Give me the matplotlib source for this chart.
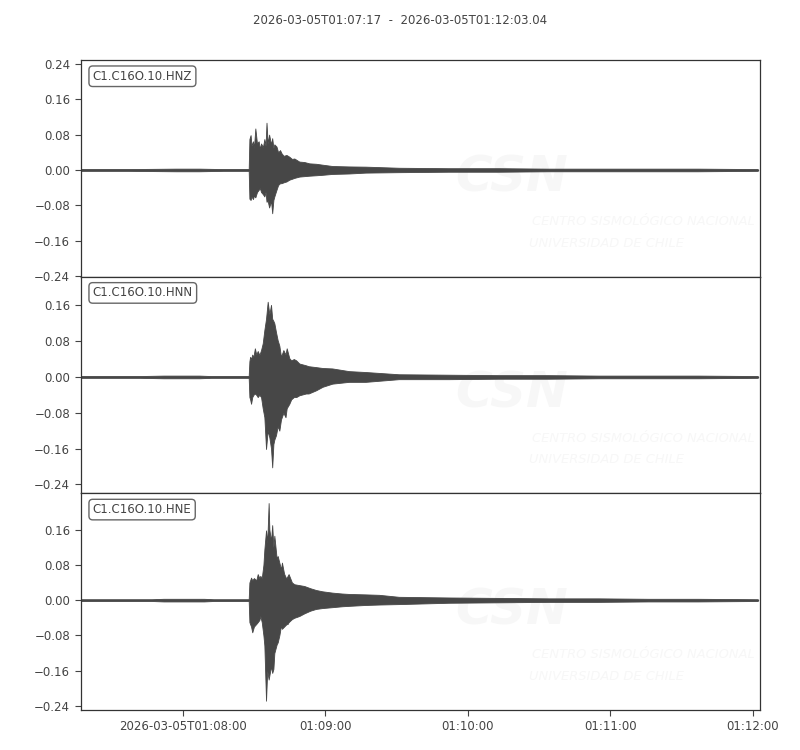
import datetime as dt
import numpy as np
import matplotlib
matplotlib.use("Agg")
import matplotlib.pyplot as plt
import matplotlib.dates as mdates
from matplotlib.ticker import FixedLocator, FuncFormatter

# ---------------- data ----------------
start_time = dt.datetime(2026, 3, 5, 1, 7, 17)
end_time = dt.datetime(2026, 3, 5, 1, 12, 3, 40000)
title_text = "2026-03-05T01:07:17  -  2026-03-05T01:12:03.04"
channels = ["C1.C16O.10.HNZ", "C1.C16O.10.HNN", "C1.C16O.10.HNE"]

# seconds after start; upper / lower envelope of the trace
t_z = [0, 20, 40, 50, 60, 70.8, 71.1, 71.6, 72.0, 72.6, 73.0, 73.6, 74.3, 75.0, 75.5,
       76.0, 76.8, 77.4, 77.9, 78.3, 78.8, 79.4, 80.2, 80.7, 81.2, 81.6, 82.5, 83.2, 84.0, 84.6,
       85.5, 86.7, 87.9, 89.0, 90.0, 92.1, 94.2, 96.3, 99.2, 101.8, 106, 113, 120, 134, 155,
       176, 197, 218, 239, 260, 285.1]
up_z = [0.002, 0.002, 0.003, 0.003, 0.002, 0.002, 0.07, 0.079, 0.055, 0.065, 0.05, 0.094, 0.06, 0.065, 0.048,
        0.06, 0.052, 0.07, 0.055, 0.107, 0.06, 0.08, 0.058, 0.072, 0.05, 0.058, 0.053, 0.04, 0.045, 0.038,
        0.032, 0.034, 0.030, 0.025, 0.026, 0.019, 0.018, 0.015, 0.014, 0.012, 0.009, 0.008, 0.0075, 0.005, 0.004,
        0.004, 0.003, 0.003, 0.003, 0.003, 0.002]
lo_z = [-0.002, -0.002, -0.003, -0.003, -0.002, -0.002, -0.065, -0.068, -0.06, -0.066, -0.058, -0.062, -0.05, -0.045, -0.041,
        -0.05, -0.055, -0.06, -0.05, -0.072, -0.07, -0.085, -0.07, -0.098, -0.068, -0.06, -0.045, -0.034, -0.03, -0.03,
        -0.028, -0.026, -0.022, -0.02, -0.018, -0.015, -0.014, -0.013, -0.012, -0.011, -0.009, -0.008, -0.006, -0.005, -0.004,
        -0.004, -0.003, -0.003, -0.003, -0.003, -0.002]

t_n = [0, 25, 35, 50, 55, 65, 70.8, 71.1, 71.4, 71.8, 72.3, 72.8, 73.4, 74.0, 74.6,
       75.3, 76.0, 76.7, 77.4, 78.1, 78.8, 79.5, 80.2, 80.7, 81.2, 81.6, 82.3, 83.0, 83.7, 84.4,
       85.4, 86.3, 86.8, 87.9, 88.7, 89.8, 90.8, 92.1, 94.9, 96.0, 99.1, 101.9, 106, 113, 120,
       134, 155, 176, 197, 218, 239, 260, 285.1]
up_n = [0.002, 0.002, 0.003, 0.003, 0.002, 0.002, 0.002, 0.035, 0.045, 0.04, 0.05, 0.045, 0.064, 0.05, 0.058,
        0.049, 0.06, 0.075, 0.105, 0.13, 0.168, 0.14, 0.161, 0.13, 0.125, 0.12, 0.1, 0.082, 0.07, 0.045,
        0.06, 0.05, 0.064, 0.042, 0.037, 0.04, 0.037, 0.03, 0.026, 0.024, 0.022, 0.02, 0.019, 0.013, 0.011,
        0.006, 0.005, 0.004, 0.004, 0.003, 0.003, 0.003, 0.002]
lo_n = [-0.002, -0.002, -0.003, -0.003, -0.002, -0.002, -0.002, -0.045, -0.05, -0.06, -0.045, -0.04, -0.037, -0.04, -0.045,
        -0.04, -0.045, -0.07, -0.09, -0.161, -0.12, -0.135, -0.16, -0.202, -0.15, -0.14, -0.13, -0.11, -0.12, -0.095,
        -0.08, -0.09, -0.07, -0.06, -0.05, -0.045, -0.045, -0.041, -0.037, -0.037, -0.03, -0.022, -0.015, -0.011, -0.011,
        -0.005, -0.005, -0.004, -0.004, -0.003, -0.003, -0.003, -0.002]

t_e = [0, 30, 35, 52, 56, 70.8, 71.1, 71.8, 72.3, 73.0, 74.0, 74.6, 75.3, 75.7, 76.3,
       77.0, 77.4, 78.1, 78.6, 79.2, 79.5, 80.2, 80.7, 81.2, 81.6, 82.6, 83.0, 83.7, 84.4, 84.8,
       85.7, 86.6, 87.2, 87.6, 89.0, 90.0, 92.1, 94.2, 96.7, 99.1, 101.8, 106, 110, 113, 120,
       125.7, 134, 155, 176, 197, 218, 239, 260, 285.1]
up_e = [0.002, 0.002, 0.003, 0.003, 0.002, 0.002, 0.04, 0.051, 0.045, 0.05, 0.045, 0.059, 0.05, 0.055, 0.05,
        0.08, 0.115, 0.158, 0.13, 0.22, 0.16, 0.134, 0.17, 0.12, 0.146, 0.093, 0.1, 0.085, 0.07, 0.085,
        0.06, 0.049, 0.055, 0.059, 0.04, 0.036, 0.034, 0.032, 0.027, 0.023, 0.02, 0.017, 0.015, 0.014, 0.013,
        0.012, 0.0075, 0.006, 0.005, 0.004, 0.004, 0.003, 0.003, 0.002]
lo_e = [-0.002, -0.002, -0.003, -0.003, -0.002, -0.002, -0.05, -0.06, -0.073, -0.06, -0.054, -0.05, -0.045, -0.036, -0.05,
        -0.08, -0.103, -0.228, -0.16, -0.18, -0.171, -0.15, -0.165, -0.156, -0.12, -0.1, -0.096, -0.08, -0.058, -0.065,
        -0.06, -0.055, -0.054, -0.05, -0.043, -0.04, -0.036, -0.03, -0.024, -0.02, -0.018, -0.016, -0.014, -0.013, -0.011,
        -0.01, -0.009, -0.006, -0.005, -0.004, -0.004, -0.003, -0.003, -0.002]

y_limits = [(-0.2416, 0.249), (-0.260, 0.224), (-0.249, 0.242)]
y_ticks = [[-0.24, -0.16, -0.08, 0.0, 0.08, 0.16, 0.24],
           [-0.24, -0.16, -0.08, 0.0, 0.08, 0.16],
           [-0.24, -0.16, -0.08, 0.0, 0.08, 0.16]]
x_tick_times = [dt.datetime(2026, 3, 5, 1, m, 0) for m in (8, 9, 10, 11, 12)]

series = [(t_z, up_z, lo_z), (t_n, up_n, lo_n), (t_e, up_e, lo_e)]

# ---------------- drawing ----------------
TXT = "#444444"
TRACE = "#474747"
WM = "#f7f7f7"
plt.rcParams["font.family"] = ["DejaVu Sans"]

fig = plt.figure(figsize=(8, 7.5), dpi=100)
fig.text(0.5, 1 - 20 / 750, title_text, ha="center", va="center", fontsize=8.5, color=TXT)

base = mdates.date2num(start_time)
x0 = mdates.date2num(start_time)
x1 = mdates.date2num(end_time)
tick_nums = [mdates.date2num(t) for t in x_tick_times]

left, width = 80.5 / 800, (760 - 80.5) / 800
top = 60 / 750
ph = 650 / 3 / 750

def fmt(v, pos):
    d = mdates.num2date(v)
    if pos == 0:
        return d.strftime("%Y-%m-%dT%H:%M:%S")
    return d.strftime("%H:%M:%S")

for i, (name, (tt, up, lo)) in enumerate(zip(channels, series)):
    bottom = 1 - top - (i + 1) * ph
    ax = fig.add_axes([left, bottom, width, ph])
    xs = base + np.asarray(tt) / 86400.0
    ax.fill_between(xs, lo, up, color=TRACE, linewidth=0.6, edgecolor=TRACE, zorder=2)
    ax.plot(xs, np.zeros(len(xs)), color=TRACE, linewidth=0.9, zorder=2)
    ax.set_xlim(x0, x1)
    ax.set_ylim(*y_limits[i])
    ax.yaxis.set_major_locator(FixedLocator(y_ticks[i]))
    ax.yaxis.set_major_formatter(FuncFormatter(lambda v, p: f"{v:.2f}".replace("-", "\u2212")))
    ax.xaxis.set_major_locator(FixedLocator(tick_nums))
    if i == 2:
        ax.xaxis.set_major_formatter(FuncFormatter(fmt))
    else:
        ax.tick_params(axis="x", labelbottom=False, length=0)
    ax.tick_params(axis="both", labelsize=8.5, colors=TXT, length=4, width=0.8, direction="out")
    for sp in ax.spines.values():
        sp.set_color("#333333")
        sp.set_linewidth(0.9)

    # very faint watermark
    ax.text(0.552, 0.46, "CSN", transform=ax.transAxes, fontsize=36, fontweight="bold",
            fontstyle="italic", color=WM, ha="left", va="center", zorder=0, clip_on=True)
    ax.text(0.665, 0.255, "CENTRO SISMOLÓGICO NACIONAL", transform=ax.transAxes,
            fontsize=9.4, fontstyle="italic", color=WM, ha="left", va="center", zorder=0, clip_on=True)
    ax.text(0.660, 0.155, "UNIVERSIDAD DE CHILE", transform=ax.transAxes,
            fontsize=9.4, fontstyle="italic", color=WM, ha="left", va="center", zorder=0, clip_on=True)

    ax.text(0.018, 0.925, name, transform=ax.transAxes, fontsize=8.5, color=TXT,
            ha="left", va="center", zorder=5,
            bbox=dict(boxstyle="round,pad=0.32", facecolor="white", edgecolor="#666666", linewidth=1.0))

fig.savefig("out.png", dpi=100)
